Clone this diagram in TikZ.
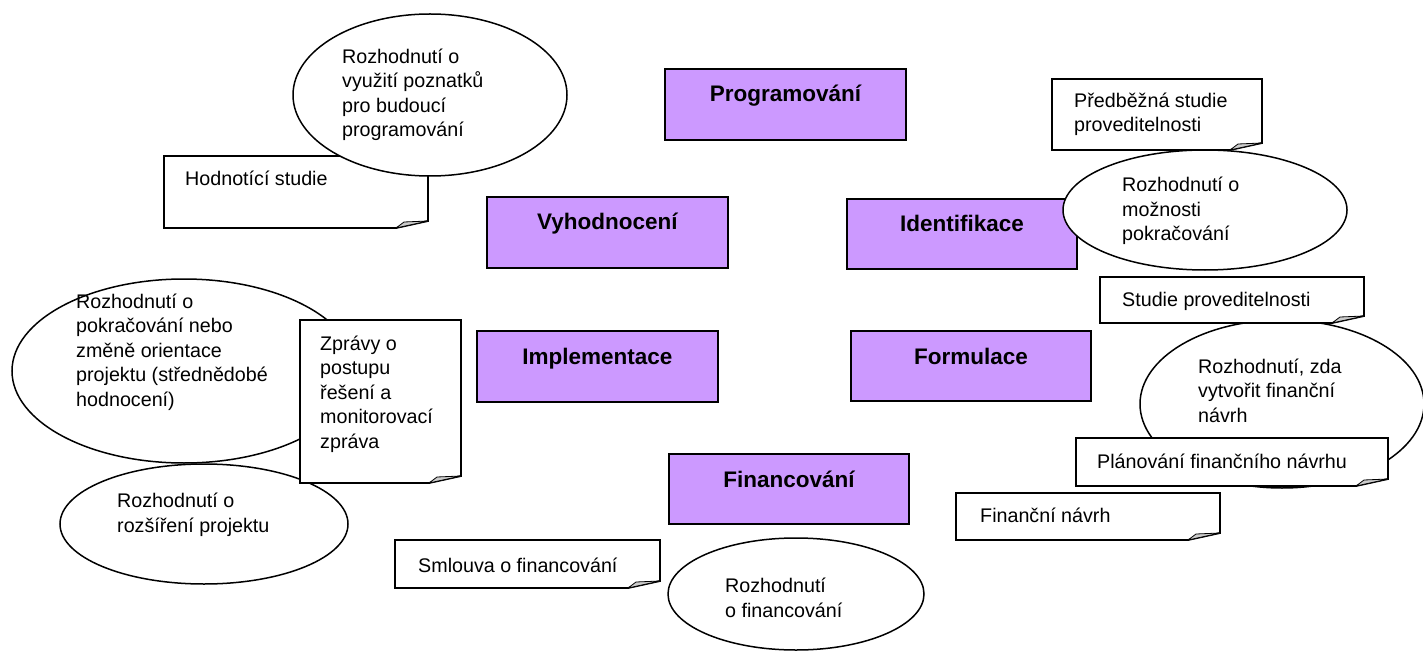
\documentclass[tikz,border=0pt]{standalone}
\usepackage{fontspec}
\setmainfont{Liberation Sans}
\usetikzlibrary{shapes.geometric}
\definecolor{phase}{HTML}{CC99FF}

% document sheet with a folded lower right corner: left, top, right, bottom
\newcommand\docframe[4]{%
  \filldraw[docline] (#1,#2) -- (#3,#2) -- ({#3},{#4-7}) -- ({#3-32},{#4}) -- (#1,#4) -- cycle;
  \filldraw[foldline] ({#3-32},{#4}) -- ({#3-24},{#4-6}) -- ({#3},{#4-7}) -- cycle;
}

\tikzset{
  docline/.style={draw=black, fill=white, line width=1.8pt, line join=miter},
  foldline/.style={draw=black, fill=gray!40, line width=0.8pt, line join=round},
  ell/.style={ellipse, draw=black, fill=white, line width=1.5pt, inner sep=0pt},
  phasebox/.style={rectangle, draw=black, fill=phase, line width=1.8pt, inner sep=0pt, anchor=north west},
  phasetext/.style={font=\fontsize{22.5}{27}\selectfont\bfseries, inner sep=0pt, anchor=base},
  % positioned at the baseline of the last line
  note/.style={font=\fontsize{19.7}{24.5}\selectfont, align=left, inner sep=0pt, anchor=base west},
}

\begin{document}
\begin{tikzpicture}[x=1pt, y=-1pt]
\useasboundingbox (0,0) rectangle (1423,652);

% project cycle phases
\node[phasebox, minimum width=241pt, minimum height=71pt] (prog) at (664,68) {};
\node[phasetext] (progT) at ([yshift=-34pt]prog.north) {Programování};
\node[phasebox, minimum width=241pt, minimum height=71pt] (vyh) at (486,196) {};
\node[phasetext] (vyhT) at ([yshift=-34pt]vyh.north) {Vyhodnocení};
\node[phasebox, minimum width=230pt, minimum height=70pt] (ident) at (846,198) {};
\node[phasetext] (identT) at ([yshift=-34pt]ident.north) {Identifikace};
\node[phasebox, minimum width=241pt, minimum height=71pt] (impl) at (476,330) {};
\node[phasetext] (implT) at ([yshift=-34pt]impl.north) {Implementace};
\node[phasebox, minimum width=240pt, minimum height=70pt] (form) at (850,330) {};
\node[phasetext] (formT) at ([yshift=-34pt]form.north) {Formulace};
\node[phasebox, minimum width=240pt, minimum height=70pt] (fin) at (668,453) {};
\node[phasetext] (finT) at ([yshift=-34pt]fin.north) {Financování};

% evaluation study and the decision on lessons learned
\docframe{164}{156}{428}{228}
\node[note] (hodnT) at (185,186) {Hodnotící studie};
\node[ell, minimum width=274pt, minimum height=162pt] (util) at (430,95) {};
\node[note] (utilT) at (342,137) {Rozhodnutí o\\využití poznatků\\pro budoucí\\programování};

% identification side
\node[ell, minimum width=284pt, minimum height=120pt] (mozn) at (1205,210) {};
\node[note] (moznT) at (1122,241) {Rozhodnutí o\\možnosti\\pokračování};
\docframe{1052}{79}{1262}{150}
\node[note] (predT) at (1074,132) {Předběžná studie\\proveditelnosti};

% formulation side
\node[ell, minimum width=284pt, minimum height=168pt] (zda) at (1282,404) {};
\node[note] (zdaT) at (1198,422) {Rozhodnutí, zda\\vytvořit finanční\\návrh};
\docframe{1100}{277}{1364}{323}
\node[note] (studT) at (1122,306) {Studie proveditelnosti};
\docframe{1076}{438}{1388}{486}
\node[note] (planT) at (1097,468) {Plánování finančního návrhu};
\docframe{956}{493}{1220}{540}
\node[note] (finnT) at (980,522) {Finanční návrh};

% implementation side
\node[ell, minimum width=344pt, minimum height=184pt] (pokr) at (184,371) {};
\node[note] (pokrT) at (76,406) {Rozhodnutí o\\pokračování nebo\\změně orientace\\projektu (střednědobé\\hodnocení)};
\node[ell, minimum width=288pt, minimum height=120pt] (rozs) at (204,524) {};
\node[note] (rozsT) at (117,532) {Rozhodnutí o\\rozšíření projektu};
\docframe{300}{320}{461}{483}
\node[note] (zprT) at (320,448) {Zprávy o\\postupu\\řešení a\\monitorovací\\zpráva};

% financing side
\docframe{395}{540}{660}{588}
\node[note] (smloT) at (418,572) {Smlouva o financování};
\node[ell, minimum width=256pt, minimum height=112pt] (efin) at (796,594) {};
\node[note] (efinT) at (725,617) {Rozhodnutí\\o financování};
\end{tikzpicture}
\end{document}
